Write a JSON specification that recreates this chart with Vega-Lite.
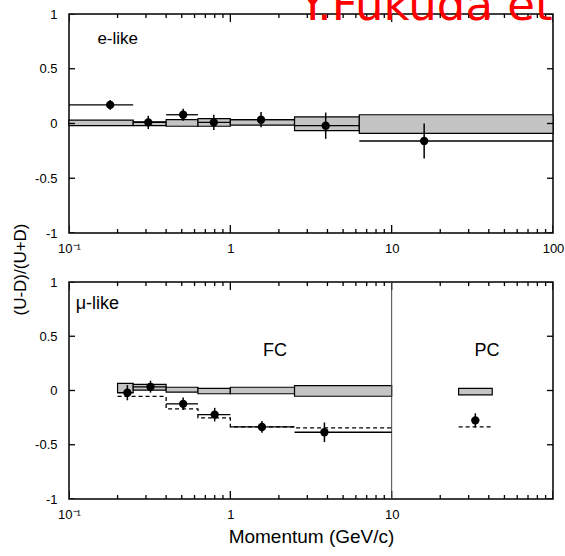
{
  "$schema": "https://vega.github.io/schema/vega-lite/v6.json",
  "padding": {"left": 10, "top": -16, "right": 0, "bottom": 0},
  "title": {"text": "Y.Fukuda et", "color": "red", "fontSize": 45, "font": "DejaVu Sans", "fontWeight": "normal", "anchor": "end", "frame": "bounds", "offset": -22, "dx": -12},
  "bounds": "flush",
  "spacing": 49,
  "config": {
    "view": {"stroke": "black", "strokeWidth": 1.5},
    "axis": {"domain": false, "ticks": false, "tickSize": 0, "grid": false, "labelColor": "black", "labelFont": "Liberation Sans", "labelFontSize": 13, "titleFont": "Liberation Sans", "titleColor": "black", "titleFontWeight": "normal", "labelFlush": false, "labelOverlap": false}
  },
  "datasets": {
    "ticksX": [
      {"v": 0.1, "major": true}, {"v": 0.2, "major": false}, {"v": 0.3, "major": false}, {"v": 0.4, "major": false}, {"v": 0.5, "major": false},
      {"v": 0.6, "major": false}, {"v": 0.7, "major": false}, {"v": 0.8, "major": false}, {"v": 0.9, "major": false},
      {"v": 1, "major": true}, {"v": 2, "major": false}, {"v": 3, "major": false}, {"v": 4, "major": false}, {"v": 5, "major": false},
      {"v": 6, "major": false}, {"v": 7, "major": false}, {"v": 8, "major": false}, {"v": 9, "major": false},
      {"v": 10, "major": true}, {"v": 20, "major": false}, {"v": 30, "major": false}, {"v": 40, "major": false}, {"v": 50, "major": false},
      {"v": 60, "major": false}, {"v": 70, "major": false}, {"v": 80, "major": false}, {"v": 90, "major": false}, {"v": 100, "major": true}
    ],
    "ticksY": [{"v": -1}, {"v": -0.5}, {"v": 0}, {"v": 0.5}, {"v": 1}],
    "boxesE": [
      {"lo": 0.1, "hi": 0.25, "ylo": -0.02, "yhi": 0.03},
      {"lo": 0.25, "hi": 0.4, "ylo": -0.02, "yhi": 0.015},
      {"lo": 0.4, "hi": 0.63, "ylo": -0.025, "yhi": 0.035},
      {"lo": 0.63, "hi": 1.0, "ylo": -0.025, "yhi": 0.045},
      {"lo": 1.0, "hi": 2.5, "ylo": -0.015, "yhi": 0.035},
      {"lo": 2.5, "hi": 6.3, "ylo": -0.065, "yhi": 0.06},
      {"lo": 6.3, "hi": 100, "ylo": -0.09, "yhi": 0.08}
    ],
    "pointsE": [
      {"p": 0.18, "v": 0.17, "elo": 0.125, "ehi": 0.215, "lo": 0.1, "hi": 0.25},
      {"p": 0.31, "v": 0.01, "elo": -0.05, "ehi": 0.07, "lo": 0.25, "hi": 0.4},
      {"p": 0.51, "v": 0.08, "elo": 0.025, "ehi": 0.135, "lo": 0.4, "hi": 0.63},
      {"p": 0.79, "v": 0.01, "elo": -0.06, "ehi": 0.08, "lo": 0.63, "hi": 1.0},
      {"p": 1.55, "v": 0.035, "elo": -0.035, "ehi": 0.105, "lo": 1.0, "hi": 2.5},
      {"p": 3.9, "v": -0.02, "elo": -0.14, "ehi": 0.1, "lo": 2.5, "hi": 6.3},
      {"p": 15.9, "v": -0.16, "elo": -0.32, "ehi": 0.0, "lo": 6.3, "hi": 100}
    ],
    "boxesM": [
      {"lo": 0.2, "hi": 0.25, "ylo": -0.02, "yhi": 0.065},
      {"lo": 0.25, "hi": 0.4, "ylo": 0.003, "yhi": 0.056},
      {"lo": 0.4, "hi": 0.63, "ylo": -0.015, "yhi": 0.03},
      {"lo": 0.63, "hi": 1.0, "ylo": -0.03, "yhi": 0.02},
      {"lo": 1.0, "hi": 2.5, "ylo": -0.03, "yhi": 0.03},
      {"lo": 2.5, "hi": 10, "ylo": -0.053, "yhi": 0.045},
      {"lo": 26, "hi": 42, "ylo": -0.04, "yhi": 0.02}
    ],
    "pointsM": [
      {"p": 0.23, "v": -0.02, "elo": -0.09, "ehi": 0.05, "lo": 0.2, "hi": 0.25},
      {"p": 0.32, "v": 0.034, "elo": -0.02, "ehi": 0.09, "lo": 0.25, "hi": 0.4},
      {"p": 0.51, "v": -0.123, "elo": -0.18, "ehi": -0.065, "lo": 0.4, "hi": 0.63},
      {"p": 0.8, "v": -0.222, "elo": -0.285, "ehi": -0.16, "lo": 0.63, "hi": 1.0},
      {"p": 1.57, "v": -0.336, "elo": -0.39, "ehi": -0.28, "lo": 1.0, "hi": 2.5},
      {"p": 3.83, "v": -0.385, "elo": -0.475, "ehi": -0.295, "lo": 2.5, "hi": 10},
      {"p": 33, "v": -0.275, "elo": -0.34, "ehi": -0.21}
    ],
    "stepM": [
      {"region": "FC", "x": 0.2, "y": -0.055},
      {"region": "FC", "x": 0.4, "y": -0.17},
      {"region": "FC", "x": 0.63, "y": -0.253},
      {"region": "FC", "x": 1.0, "y": -0.336},
      {"region": "FC", "x": 2.5, "y": -0.345},
      {"region": "FC", "x": 10, "y": -0.345},
      {"region": "PC", "x": 26, "y": -0.336},
      {"region": "PC", "x": 42, "y": -0.336}
    ]
  },
  "vconcat": [
    {
      "width": 484,
      "height": 219,
      "layer": [
        {
          "data": {"name": "boxesE"},
          "mark": {"type": "rect", "fill": "#c4c4c4", "stroke": "black", "strokeWidth": 1.2},
          "encoding": {
            "x": {"field": "lo", "type": "quantitative", "scale": {"type": "log", "domain": [0.1, 100], "nice": false},
              "axis": {"orient": "bottom", "title": null, "labelPadding": 9, "values": [0.1, 1, 10, 100],
                "labelExpr": "datum.value == 0.1 ? '10⁻¹' : '' + datum.value"}},
            "x2": {"field": "hi"},
            "y": {"field": "ylo", "type": "quantitative", "scale": {"domain": [-1, 1], "nice": false},
              "axis": {"orient": "left", "values": [-1, -0.5, 0, 0.5, 1], "labelPadding": 12, "labelExpr": "'' + datum.value",
                "title": "(U-D)/(U+D)", "titleFontSize": 17, "titleAngle": 270, "titleX": -49, "titleY": 255, "titleAlign": "center", "titleBaseline": "middle"}},
            "y2": {"field": "yhi"}
          }
        },
        {
          "data": {"name": "ticksX"},
          "mark": {"type": "tick", "orient": "vertical", "color": "black", "thickness": 1.3, "opacity": 1, "clip": true},
          "encoding": {
            "x": {"field": "v", "type": "quantitative", "scale": {"type": "log", "domain": [0.1, 100], "nice": false}},
            "y": {"datum": -1, "type": "quantitative", "scale": {"domain": [-1, 1], "nice": false}},
            "size": {"condition": {"test": "datum.major", "value": 16}, "value": 8}
          }
        },
        {
          "data": {"name": "ticksX"},
          "mark": {"type": "tick", "orient": "vertical", "color": "black", "thickness": 1.3, "opacity": 1, "clip": true},
          "encoding": {
            "x": {"field": "v", "type": "quantitative", "scale": {"type": "log", "domain": [0.1, 100], "nice": false}},
            "y": {"datum": 1, "type": "quantitative", "scale": {"domain": [-1, 1], "nice": false}},
            "size": {"condition": {"test": "datum.major", "value": 16}, "value": 8}
          }
        },
        {
          "data": {"name": "ticksY"},
          "mark": {"type": "tick", "orient": "horizontal", "color": "black", "thickness": 1.3, "opacity": 1, "clip": true, "size": 12},
          "encoding": {
            "x": {"datum": 0.1, "type": "quantitative", "scale": {"type": "log", "domain": [0.1, 100], "nice": false}},
            "y": {"field": "v", "type": "quantitative", "scale": {"domain": [-1, 1], "nice": false}}
          }
        },
        {
          "data": {"name": "ticksY"},
          "mark": {"type": "tick", "orient": "horizontal", "color": "black", "thickness": 1.3, "opacity": 1, "clip": true, "size": 12},
          "encoding": {
            "x": {"datum": 100, "type": "quantitative", "scale": {"type": "log", "domain": [0.1, 100], "nice": false}},
            "y": {"field": "v", "type": "quantitative", "scale": {"domain": [-1, 1], "nice": false}}
          }
        },
        {
          "data": {"name": "pointsE"},
          "mark": {"type": "rule", "color": "black", "strokeWidth": 1.3},
          "encoding": {
            "x": {"field": "lo", "type": "quantitative", "scale": {"type": "log", "domain": [0.1, 100], "nice": false}},
            "x2": {"field": "hi"},
            "y": {"field": "v", "type": "quantitative", "scale": {"domain": [-1, 1], "nice": false}}
          }
        },
        {
          "data": {"name": "pointsE"},
          "mark": {"type": "rule", "color": "black", "strokeWidth": 1.5},
          "encoding": {
            "x": {"field": "p", "type": "quantitative", "scale": {"type": "log", "domain": [0.1, 100], "nice": false}},
            "y": {"field": "elo", "type": "quantitative", "scale": {"domain": [-1, 1], "nice": false}},
            "y2": {"field": "ehi"}
          }
        },
        {
          "data": {"name": "pointsE"},
          "mark": {"type": "circle", "color": "black", "size": 70, "opacity": 1},
          "encoding": {
            "x": {"field": "p", "type": "quantitative", "scale": {"type": "log", "domain": [0.1, 100], "nice": false}},
            "y": {"field": "v", "type": "quantitative", "scale": {"domain": [-1, 1], "nice": false}}
          }
        },
        {
          "data": {"values": [{"x": 0.15, "y": 0.77, "label": "e-like"}]},
          "mark": {"type": "text", "align": "left", "baseline": "middle", "font": "Liberation Sans", "fontSize": 17, "color": "black"},
          "encoding": {
            "x": {"field": "x", "type": "quantitative", "scale": {"type": "log", "domain": [0.1, 100], "nice": false}},
            "y": {"field": "y", "type": "quantitative", "scale": {"domain": [-1, 1], "nice": false}},
            "text": {"field": "label"}
          }
        }
      ]
    },
    {
      "width": 484,
      "height": 217,
      "layer": [
        {
          "data": {"name": "boxesM"},
          "mark": {"type": "rect", "fill": "#c4c4c4", "stroke": "black", "strokeWidth": 1.2},
          "encoding": {
            "x": {"field": "lo", "type": "quantitative", "scale": {"type": "log", "domain": [0.1, 100], "nice": false},
              "axis": {"orient": "bottom", "title": "Momentum (GeV/c)", "titleFontSize": 19, "titlePadding": 6, "labelPadding": 9, "values": [0.1, 1, 10],
                "labelExpr": "datum.value == 0.1 ? '10⁻¹' : '' + datum.value"}},
            "x2": {"field": "hi"},
            "y": {"field": "ylo", "type": "quantitative", "scale": {"domain": [-1, 1], "nice": false},
              "axis": {"orient": "left", "values": [-1, -0.5, 0, 0.5, 1], "labelPadding": 12, "labelExpr": "'' + datum.value", "title": null}},
            "y2": {"field": "yhi"}
          }
        },
        {
          "data": {"name": "ticksX"},
          "mark": {"type": "tick", "orient": "vertical", "color": "black", "thickness": 1.3, "opacity": 1, "clip": true},
          "encoding": {
            "x": {"field": "v", "type": "quantitative", "scale": {"type": "log", "domain": [0.1, 100], "nice": false}},
            "y": {"datum": -1, "type": "quantitative", "scale": {"domain": [-1, 1], "nice": false}},
            "size": {"condition": {"test": "datum.major", "value": 16}, "value": 8}
          }
        },
        {
          "data": {"name": "ticksX"},
          "mark": {"type": "tick", "orient": "vertical", "color": "black", "thickness": 1.3, "opacity": 1, "clip": true},
          "encoding": {
            "x": {"field": "v", "type": "quantitative", "scale": {"type": "log", "domain": [0.1, 100], "nice": false}},
            "y": {"datum": 1, "type": "quantitative", "scale": {"domain": [-1, 1], "nice": false}},
            "size": {"condition": {"test": "datum.major", "value": 16}, "value": 8}
          }
        },
        {
          "data": {"name": "ticksY"},
          "mark": {"type": "tick", "orient": "horizontal", "color": "black", "thickness": 1.3, "opacity": 1, "clip": true, "size": 12},
          "encoding": {
            "x": {"datum": 0.1, "type": "quantitative", "scale": {"type": "log", "domain": [0.1, 100], "nice": false}},
            "y": {"field": "v", "type": "quantitative", "scale": {"domain": [-1, 1], "nice": false}}
          }
        },
        {
          "data": {"name": "ticksY"},
          "mark": {"type": "tick", "orient": "horizontal", "color": "black", "thickness": 1.3, "opacity": 1, "clip": true, "size": 12},
          "encoding": {
            "x": {"datum": 100, "type": "quantitative", "scale": {"type": "log", "domain": [0.1, 100], "nice": false}},
            "y": {"field": "v", "type": "quantitative", "scale": {"domain": [-1, 1], "nice": false}}
          }
        },
        {
          "data": {"values": [{"x": 10}]},
          "mark": {"type": "rule", "color": "#444", "strokeWidth": 1},
          "encoding": {
            "x": {"field": "x", "type": "quantitative", "scale": {"type": "log", "domain": [0.1, 100], "nice": false}}
          }
        },
        {
          "data": {"name": "stepM"},
          "mark": {"type": "line", "interpolate": "step-after", "color": "black", "strokeWidth": 1.3, "strokeDash": [4, 3]},
          "encoding": {
            "x": {"field": "x", "type": "quantitative", "scale": {"type": "log", "domain": [0.1, 100], "nice": false}},
            "y": {"field": "y", "type": "quantitative", "scale": {"domain": [-1, 1], "nice": false}},
            "detail": {"field": "region"}
          }
        },
        {
          "data": {"name": "pointsM"},
          "mark": {"type": "rule", "color": "black", "strokeWidth": 1.3},
          "encoding": {
            "x": {"field": "lo", "type": "quantitative", "scale": {"type": "log", "domain": [0.1, 100], "nice": false}},
            "x2": {"field": "hi"},
            "y": {"field": "v", "type": "quantitative", "scale": {"domain": [-1, 1], "nice": false}}
          }
        },
        {
          "data": {"name": "pointsM"},
          "mark": {"type": "rule", "color": "black", "strokeWidth": 1.5},
          "encoding": {
            "x": {"field": "p", "type": "quantitative", "scale": {"type": "log", "domain": [0.1, 100], "nice": false}},
            "y": {"field": "elo", "type": "quantitative", "scale": {"domain": [-1, 1], "nice": false}},
            "y2": {"field": "ehi"}
          }
        },
        {
          "data": {"name": "pointsM"},
          "mark": {"type": "circle", "color": "black", "size": 70, "opacity": 1},
          "encoding": {
            "x": {"field": "p", "type": "quantitative", "scale": {"type": "log", "domain": [0.1, 100], "nice": false}},
            "y": {"field": "v", "type": "quantitative", "scale": {"domain": [-1, 1], "nice": false}}
          }
        },
        {
          "data": {"values": [
            {"x": 0.15, "y": 0.8, "label": "μ-like", "al": "left"},
            {"x": 1.89, "y": 0.36, "label": "FC", "al": "center"},
            {"x": 39, "y": 0.36, "label": "PC", "al": "center"}
          ]},
          "mark": {"type": "text", "baseline": "middle", "font": "Liberation Sans", "fontSize": 18, "color": "black"},
          "encoding": {
            "x": {"field": "x", "type": "quantitative", "scale": {"type": "log", "domain": [0.1, 100], "nice": false}},
            "y": {"field": "y", "type": "quantitative", "scale": {"domain": [-1, 1], "nice": false}},
            "text": {"field": "label"},
            "align": {"field": "al", "type": "nominal", "scale": null}
          }
        }
      ]
    }
  ]
}
